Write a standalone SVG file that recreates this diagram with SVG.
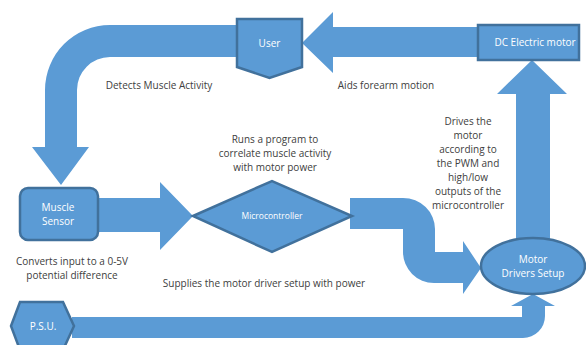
<svg xmlns="http://www.w3.org/2000/svg" width="586" height="345" viewBox="0 0 586 345">
<style>
.arrow{fill:#5B9BD5;stroke:none}
.node{fill:#5B9BD5;stroke:#41719C;stroke-width:2.5}
.nt{fill:#ffffff;font-family:"Open Sans","Liberation Sans",sans-serif;font-size:10px;text-anchor:middle}
.lbl{fill:#404040;font-family:"Open Sans","Liberation Sans",sans-serif;font-size:10px;text-anchor:middle}
</style>
<rect width="586" height="345" fill="#ffffff"/>
<g id="connectors">
<path class="arrow" d="M240,25 H110 A65,65 0 0 0 45,90 V147 H32 L61,185 L89,147 H77 V90 A33,33 0 0 1 110,57 H240 Z"/>
<path class="arrow" d="M480,27 H333 V12 L302,43 L333,73 V57 H480 Z"/>
<path class="arrow" d="M516,242 V94 H497 L532,60 L567,94 H550 V242 Z"/>
<path class="arrow" d="M96,198 H160 V182 L193,216 L160,250 V232 H96 Z"/>
<path class="arrow" d="M350,198 H403 A32,31 0 0 1 435,229 V252 H463 V241 L481,268 L463,294 V283 H434 A31,31 0 0 1 403,252 V229 H350 Z"/>
<path class="arrow" d="M72,317 H522 V306 H511 L533,294 L555,306 H545 V316 A22,22 0 0 1 523,338 H72 Z"/>
</g>
<g id="user">
<path class="node" d="M237,19 H302 V67 L269.5,78 L237,67 Z"/>
<text class="nt" x="269.5" y="47">User</text>
</g>
<g id="dc-motor">
<rect class="node" x="478" y="25" width="101" height="35"/>
<text class="nt" x="535" y="46">DC Electric motor</text>
</g>
<g id="muscle-sensor">
<rect class="node" x="20" y="188" width="78" height="52" rx="8"/>
<text class="nt" x="58" y="211">Muscle</text>
<text class="nt" x="58" y="225">Sensor</text>
</g>
<g id="microcontroller">
<path class="node" d="M193,216 L272,181 L352,216 L272,252 Z"/>
<text class="nt" x="272" y="219" style="font-size:8.5px">Microcontroller</text>
</g>
<g id="motor-drivers">
<ellipse class="node" cx="533" cy="266" rx="52" ry="28"/>
<text class="nt" x="533" y="263">Motor</text>
<text class="nt" x="533" y="277">Drivers Setup</text>
</g>
<g id="psu">
<path class="node" d="M11,326 L20,302 H63 L74,326 L63,350 H20 Z"/>
<text class="nt" x="43" y="330">P.S.U.</text>
</g>
<g id="labels">
<text class="lbl" x="159" y="89">Detects Muscle Activity</text>
<text class="lbl" x="386" y="89">Aids forearm motion</text>
<text class="lbl" x="275" y="143">Runs a program to</text>
<text class="lbl" x="275" y="157">correlate muscle activity</text>
<text class="lbl" x="275" y="171">with motor power</text>
<text class="lbl" x="468" y="125">Drives the</text>
<text class="lbl" x="468" y="139">motor</text>
<text class="lbl" x="468" y="153">according to</text>
<text class="lbl" x="468" y="167">the PWM and</text>
<text class="lbl" x="468" y="181">high/low</text>
<text class="lbl" x="468" y="195">outputs of the</text>
<text class="lbl" x="468" y="209">microcontroller</text>
<text class="lbl" x="72" y="265">Converts input to a 0-5V</text>
<text class="lbl" x="72" y="279">potential difference</text>
<text class="lbl" x="264" y="287">Supplies the motor driver setup with power</text>
</g>
</svg>
